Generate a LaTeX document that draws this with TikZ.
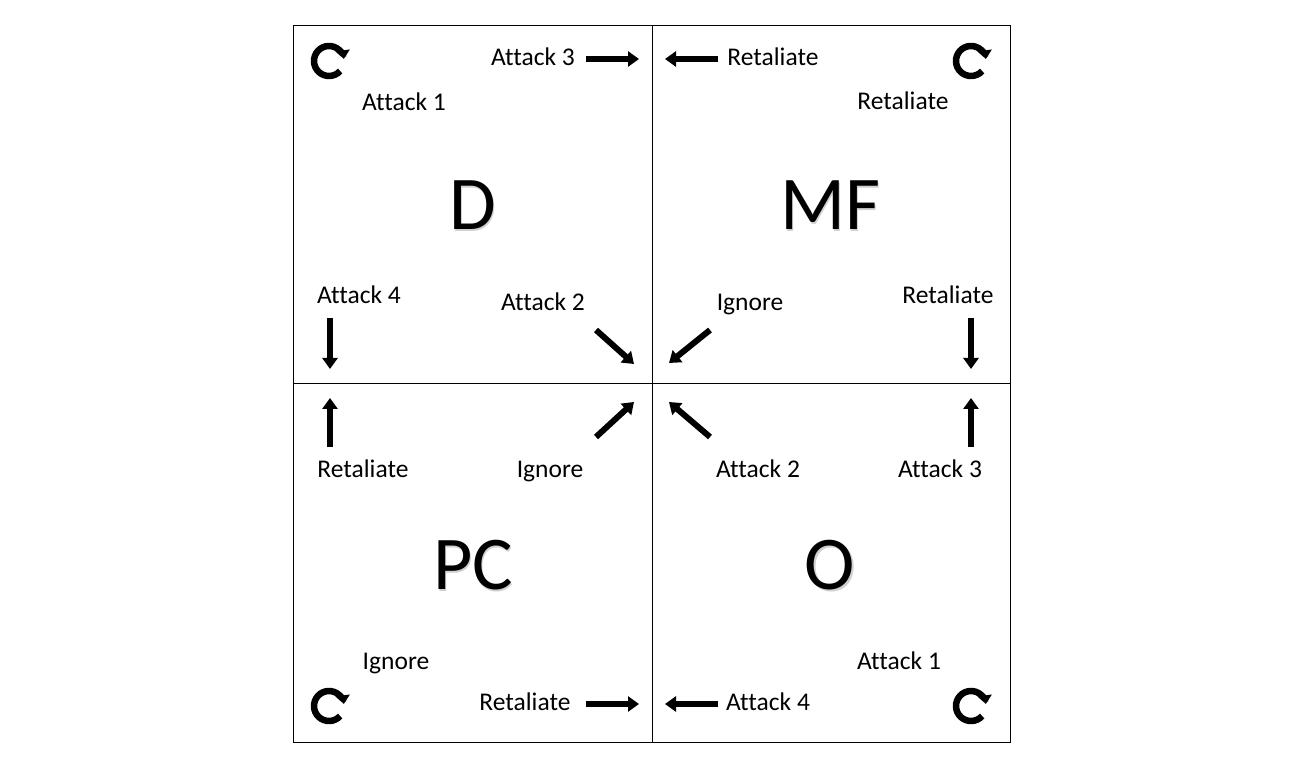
\documentclass[tikz,border=0pt]{standalone}
\usepackage{fontspec}
\setmainfont{Carlito}[Ligatures=NoCommon]
\usetikzlibrary{arrows.meta}
\tikzset{
  lbl/.style={font=\fontsize{25.5}{29}\selectfont, anchor=base, inner sep=0pt},
  big/.style={font=\fontsize{76}{80}\selectfont, anchor=base, inner sep=0pt},
  bigshadow/.style={big, text=black!18},
  blk/.style={line width=6pt, -{Triangle[length=11pt,width=15pt]}},
  cyc/.style={line width=6.5pt, -{Triangle[length=8.5pt,width=14pt]}},
  grid/.style={line width=1pt}
}
\begin{document}
\begin{tikzpicture}[x=1pt,y=1pt]
\useasboundingbox (0,0) rectangle (1300,768);
% grid
\draw[grid] (293,26) rectangle (1010,742);
\draw[grid] (652,26) -- (652,742);
\draw[grid] (293,384) -- (1010,384);
% big letters
\foreach \t/\x/\y in {D/473/538, MF/830/538, PC/473/178, O/830/178}{
  \node[bigshadow] at (\x+1.2,\y-1.2) {\t};
}
\node[big] (D) at (473,538) {D};
\node[big] (MF) at (830,538) {MF};
\node[big] (PC) at (473,178) {PC};
\node[big] (O) at (830,178) {O};
% labels
\node[lbl] (l1) at (404,657) {Attack 1};
\node[lbl] (l2) at (533,702) {Attack 3};
\node[lbl] (l3) at (773,702) {Retaliate};
\node[lbl] (l4) at (903,658) {Retaliate};
\node[lbl] (l5) at (359,464) {Attack 4};
\node[lbl] (l6) at (543,457) {Attack 2};
\node[lbl] (l7) at (750,457) {Ignore};
\node[lbl] (l8) at (948,464) {Retaliate};
\node[lbl] (l9) at (363,290) {Retaliate};
\node[lbl] (l10) at (550,290) {Ignore};
\node[lbl] (l11) at (758,290) {Attack 2};
\node[lbl] (l12) at (940,290) {Attack 3};
\node[lbl] (l13) at (396,99) {Ignore};
\node[lbl] (l14) at (899,99) {Attack 1};
\node[lbl] (l15) at (525,58) {Retaliate};
\node[lbl] (l16) at (768,58) {Attack 4};
% arrow coordinates
\coordinate (a3s) at (586,709); \coordinate (a3e) at (639,709);
\coordinate (rts) at (718,709); \coordinate (rte) at (665,709);
\coordinate (a4s) at (330,450); \coordinate (a4e) at (330,399);
\coordinate (rms) at (971,450); \coordinate (rme) at (971,399);
\coordinate (rps) at (330,321); \coordinate (rpe) at (330,370);
\coordinate (aos) at (971,321); \coordinate (aoe) at (971,370);
\coordinate (a2s) at (596,438); \coordinate (a2e) at (634,404);
\coordinate (igs) at (710,438); \coordinate (ige) at (669,405);
\coordinate (ips) at (596,331); \coordinate (ipe) at (634,366);
\coordinate (b2s) at (710,331); \coordinate (b2e) at (669,366);
\coordinate (rbs) at (586,64); \coordinate (rbe) at (639,64);
\coordinate (b4s) at (718,64); \coordinate (b4e) at (665,64);
\foreach \s/\e in {a3s/a3e, rts/rte, a4s/a4e, rms/rme, rps/rpe, aos/aoe, a2s/a2e, igs/ige, ips/ipe, b2s/b2e, rbs/rbe, b4s/b4e}{
  \draw[blk] (\s) -- (\e);
}
% cycle arrows
\coordinate (c1) at (329,707);
\coordinate (c2) at (971,707);
\coordinate (c3) at (329,62);
\coordinate (c4) at (971,62);
\foreach \c in {c1,c2,c3,c4}{
  \draw[cyc] (\c) ++(-42:15) arc[start angle=-42, end angle=-352, radius=15];
}
\end{tikzpicture}
\end{document}
